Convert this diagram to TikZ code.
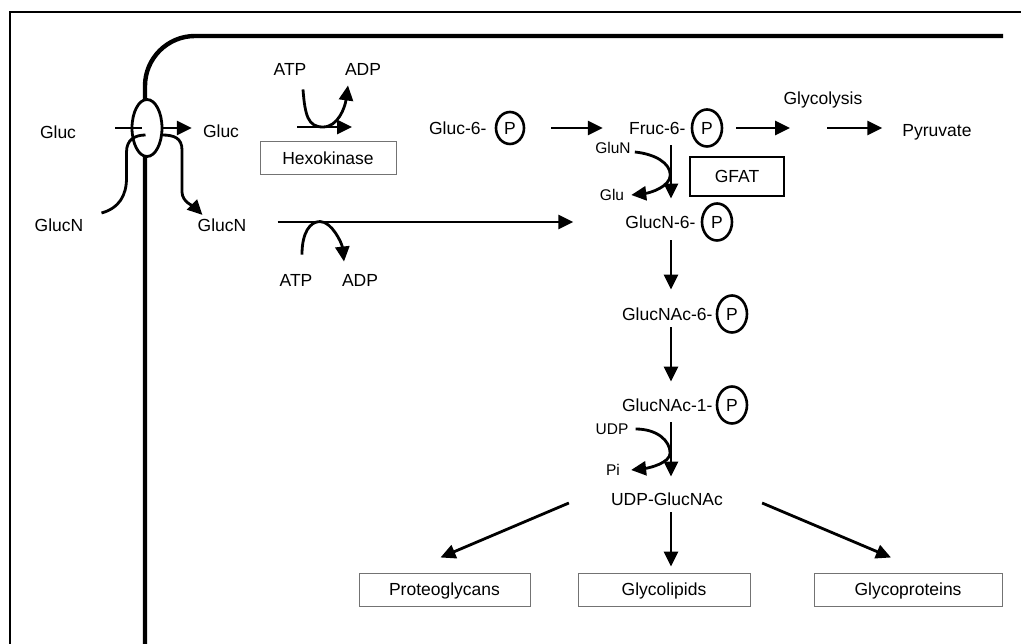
\documentclass[tikz,border=0pt]{standalone}
\usepackage{fontspec}
\setmainfont{Liberation Sans}
\usetikzlibrary{arrows.meta,calc,positioning,shapes.geometric}

\begin{document}
\begin{tikzpicture}[
    x=1pt, y=-1pt,
    lbl/.style={inner sep=0pt, text height=12.5pt, text depth=0pt, font=\fontsize{17.5}{20}\selectfont},
    sml/.style={inner sep=0pt, text height=11pt, text depth=0pt, font=\fontsize{15.5}{18}\selectfont},
    phos/.style={ellipse, draw, line width=2.6pt, inner sep=0pt, minimum width=30pt, minimum height=37pt, text height=12.5pt, text depth=0pt, font=\fontsize{17.5}{20}\selectfont},
    enzbox/.style={draw=black!55, line width=1pt, inner sep=0pt, minimum height=33pt, text height=12.5pt, text depth=0pt, font=\fontsize{17.5}{20}\selectfont},
    flow/.style={line width=2.8pt},
    arr/.style={flow, -{Triangle[length=15pt,width=14pt]}},
    membrane/.style={line width=4.4pt, rounded corners=50pt}
  ]
  \useasboundingbox (0,0) rectangle (1021,644);
  \draw[line width=1.3pt] (10,644) -- (10,12) -- (1021,12);

  % cell membrane and transporter
  \draw[membrane] (145,644) -- (145,36) -- (1003,36);
  \node[ellipse, draw, fill=white, line width=2.8pt, minimum width=30pt, minimum height=57pt, inner sep=0pt] (chan) at (147,128) {};

  \node[lbl] (glucin) at (58,132) {Gluc};
  \node[lbl] (glucout) at (221,131) {Gluc};
  \node[lbl] (glucnin) at (59,225) {GlucN};
  \node[lbl] (glucnout) at (222,225) {GlucN};

  \draw[flow] ([shift={(-32,0)}]chan.center) -- ([shift={(-5,0)}]chan.center);
  \draw[arr, shorten >=11pt] (chan.east) -- (chan.east -| glucout.west);
  \draw[flow] ([shift={(18,-12)}]glucnin.east) .. controls +(18,-5) and +(0,17) .. ++(25,-35) -- ++(0,-26) .. controls +(0,-12) and +(-11,0) .. ++(19,-17);
  \draw[arr] ([shift={(15,7)}]chan.center) .. controls +(12,0) and +(0,-12) .. ++(20,15) -- ++(0,42) .. controls +(0,10) and +(-8,-8) .. ([shift={(5,-10)}]glucnout.west);

  % hexokinase steps
  \node[lbl] (atpa) at (290,69) {ATP};
  \node[lbl] (adpa) at (363,69) {ADP};
  \node[enzbox, minimum width=136pt] (hexo) at (328,158) {Hexokinase};
  \draw[arr] ([shift={(-31,-31)}]hexo.center) -- ([shift={(24,-31)}]hexo.center);
  \draw[arr] ([shift={(13,14)}]atpa.south) .. controls +(2,26) and +(-15,0) .. ([shift={(-5,-31)}]hexo.center) .. controls +(15,0) and +(-3,22) .. ([shift={(-15,10)}]adpa.south);

  \node[lbl] (atpb) at (296,280) {ATP};
  \node[lbl] (adpb) at (360,280) {ADP};

  % hexosamine pathway
  \node[phos, minimum width=28pt, minimum height=32pt] (g6pP) at (510,128) {P};
  \node[lbl, left=8pt of g6pP] (g6p) {Gluc-6-};
  \node[phos] (frucP) at (707,128) {P};
  \node[lbl, left=5pt of frucP] (fruc) {Fruc-6-};
  \draw[arr, shorten <=26pt, shorten >=26pt] (g6pP.east) -- (g6pP.east -| fruc.west);

  \node[lbl] (glyco) at (823,98) {Glycolysis};
  \node[lbl] (pyr) at (937,130) {Pyruvate};
  \draw[arr, shorten <=13pt] (frucP.east) -- ($(glyco.center |- frucP.east)+(-33,0)$);
  \draw[arr, shorten >=20pt] ($(glyco.center |- frucP.east)+(4,0)$) -- (pyr.west |- frucP.east);

  \node[draw, line width=2.8pt, minimum width=94pt, minimum height=39pt, inner sep=0pt, text height=12.5pt, text depth=0pt, font=\fontsize{17.5}{20}\selectfont] (gfat) at (737,176.5) {GFAT};

  \coordinate (spine) at (671,0);
  \node[phos] (glcnP) at (717,222) {P};
  \node[lbl, left=5pt of glcnP] (glcnsix) {GlucN-6-};
  \draw[arr, shorten <=11pt, shorten >=17pt] (fruc.south -| spine) -- (glcnsix.north -| spine);
  \draw[arr, shorten <=31pt, shorten >=52pt] (glucnout.east |- glcnsix.west) -- (glcnsix.west);
  \draw[arr] ([shift={(6,-19)}]atpb.north) .. controls +(0,-22) and +(-10,0) .. ([shift={(24,-52)}]atpb.north) .. controls +(12,0) and +(-2,-18) .. ([shift={(-16,-12)}]adpb.north);

  \node[sml] (glun) at (613,148) {GluN};
  \node[sml] (glu) at (612,195) {Glu};
  \draw[arr] ([shift={(4,4)}]glun.east) .. controls +(20,2) and +(0,-12) .. ([shift={(46,-20)}]glu.east) .. controls +(0,12) and +(18,-2) .. ([shift={(7,0)}]glu.east);

  \node[phos] (nacsixP) at (732,314) {P};
  \node[lbl, left=3pt of nacsixP] (nacsix) {GlucNAc-6-};
  \node[phos] (naconeP) at (732,405) {P};
  \node[lbl, left=3pt of naconeP] (nacone) {GlucNAc-1-};
  \node[lbl] (udpg) at (667,499) {UDP-GlucNAc};
  \draw[arr, shorten <=12pt, shorten >=18pt] (glcnsix.south -| spine) -- (nacsix.north -| spine);
  \draw[arr, shorten <=7pt, shorten >=17pt] (nacsix.south -| spine) -- (nacone.north -| spine);
  \draw[arr, shorten <=11pt, shorten >=16pt] (nacone.south -| spine) -- (udpg.north -| spine);

  \node[sml] (udp) at (612,429) {UDP};
  \node[sml] (piout) at (613,470) {Pi};
  \draw[arr] ([shift={(7,0)}]udp.east) .. controls +(22,0) and +(0,-12) .. ([shift={(50,-17)}]piout.east) .. controls +(0,10) and +(18,-2) .. ([shift={(11,0)}]piout.east);

  % products
  \node[enzbox, minimum width=171pt] (proteo) at (444.5,589.5) {Proteoglycans};
  \node[enzbox, minimum width=172pt] (lipid) at (664,589.5) {Glycolipids};
  \node[enzbox, minimum width=188pt] (protein) at (908,589.5) {Glycoproteins};
  \draw[arr] ([shift={(-42,4)}]udpg.west) -- ([shift={(-4,-15)}]proteo.north);
  \draw[arr, shorten <=7pt, shorten >=6pt] (udpg.south -| spine) -- (lipid.north -| spine);
  \draw[arr] ([shift={(39,4)}]udpg.east) -- ([shift={(-17,-15)}]protein.north);
\end{tikzpicture}
\end{document}
